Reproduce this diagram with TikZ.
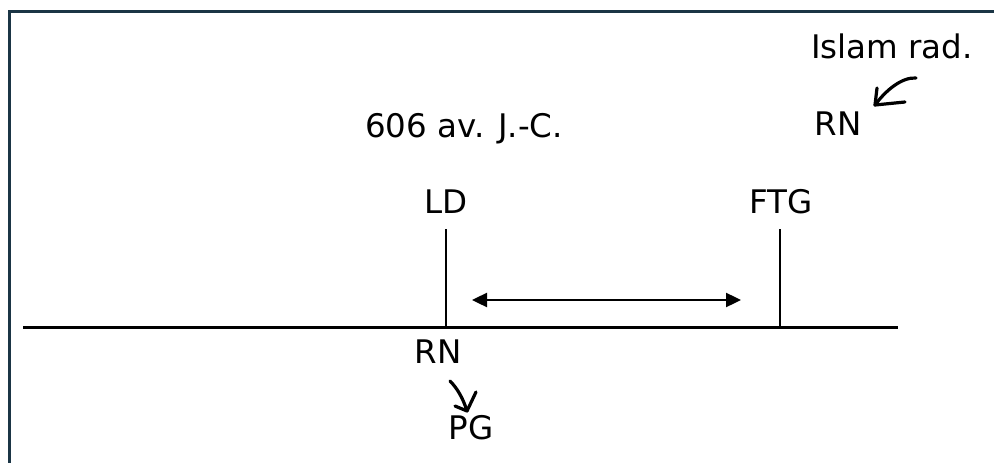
\documentclass[tikz,border=0pt]{standalone}
\usepackage{fontspec}
\setmainfont{DejaVu Sans}
\usetikzlibrary{arrows.meta}
\definecolor{frame}{HTML}{1B3545}
\begin{document}
\begin{tikzpicture}[x=1pt,y=-1pt,
  lbl/.style={anchor=base,inner sep=0pt,font=\fontsize{32.5}{32.5}\selectfont},
  hand/.style={line width=3.2pt,line cap=round,line join=round},
  axis/.style={line width=3pt},
  tick/.style={line width=2pt}]
\useasboundingbox (0,0) rectangle (994,463);
\fill[white] (0,0) rectangle (994,463);
% frame
\draw[frame,line width=3pt] (9,463) -- (9,11) -- (994,11);
% timeline
\coordinate (tl) at (23,327);
\coordinate (tr) at (898,327);
\draw[axis] (tl) -- (tr);
\coordinate (ldb) at (446,327);
\coordinate (ldt) at (446,229);
\coordinate (ftb) at (780,327);
\coordinate (ftt) at (780,229);
\draw[tick] (ldb) -- (ldt);
\draw[tick] (ftb) -- (ftt);
% double arrow
\coordinate (al) at (472,300);
\coordinate (ar) at (741,300);
\draw[line width=2.4pt,{Triangle[length=15pt,width=14pt]}-{Triangle[length=15pt,width=14pt]}] (al) -- (ar);
% labels
\node[lbl] (islam) at (892,58) {Islam rad.};
\node[lbl] (rntop) at (838,135) {RN};
\node[lbl] (date) at (464,137) {606 av. J.-C.};
\node[lbl] (ld) at (446,213) {LD};
\node[lbl] (ftg) at (781,213) {FTG};
\node[lbl] (rnbot) at (438,363) {RN};
\node[lbl] (pg) at (471,439) {PG};
% hand-drawn arrow near Islam rad.
\coordinate (h1s) at (916,78);
\coordinate (h1t) at (875,105);
\draw[hand] (h1s) .. controls (902,77) and (886,90) .. (h1t);
\draw[hand] (877,88) -- (h1t) -- (905,102);
% hand-drawn arrow RN -> PG
\coordinate (h2s) at (450,381);
\coordinate (h2t) at (467,411);
\draw[hand] (h2s) .. controls (457,388) and (463,398) .. (h2t);
\draw[hand] (455,406) -- (h2t) -- (476,392);
\end{tikzpicture}
\end{document}
